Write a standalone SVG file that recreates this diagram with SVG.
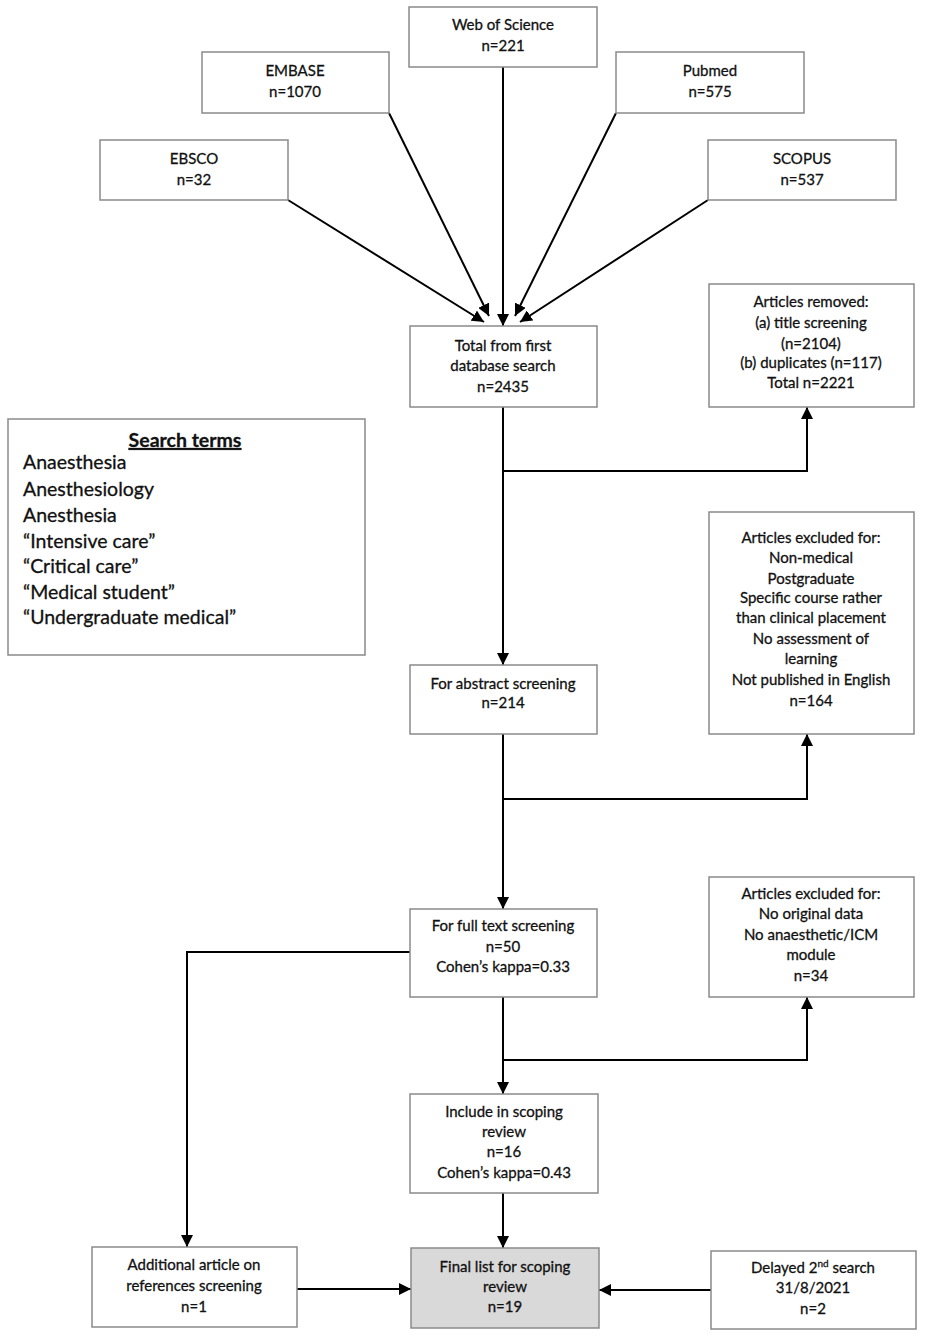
<svg xmlns="http://www.w3.org/2000/svg" width="927" height="1339" viewBox="0 0 927 1339">
<style>
.box{fill:#fff;stroke:#8a8a8a;stroke-width:1.5}
.grey{fill:#d9d9d9;stroke:#8a8a8a;stroke-width:1.5}
.t{font-family:Lato,"Liberation Sans",sans-serif;font-size:15px;fill:#111;stroke:#111;stroke-width:0.3;text-anchor:middle}
.s{font-family:Lato,"Liberation Sans",sans-serif;font-size:19.5px;fill:#111;stroke:#111;stroke-width:0.3}
.c{fill:none;stroke:#000;stroke-width:2}
</style>
<defs>
<marker id="ah" markerWidth="12" markerHeight="12" refX="12" refY="6" orient="auto" markerUnits="userSpaceOnUse"><path d="M0,0 L12,6 L0,12 z" fill="#000"/></marker>
</defs>
<rect width="927" height="1339" fill="#fff"/>
<g id="connectors">
<path class="c" d="M288,200 L484,322" marker-end="url(#ah)"/>
<path class="c" d="M389,113 L489,316" marker-end="url(#ah)"/>
<path class="c" d="M503,67 L503,326" marker-end="url(#ah)"/>
<path class="c" d="M616,113 L515,316" marker-end="url(#ah)"/>
<path class="c" d="M708,200 L520,322" marker-end="url(#ah)"/>
<path class="c" d="M503,407 L503,665" marker-end="url(#ah)"/>
<path class="c" d="M503,471 L807,471 L807,407" marker-end="url(#ah)"/>
<path class="c" d="M503,734 L503,909" marker-end="url(#ah)"/>
<path class="c" d="M503,799 L807,799 L807,734" marker-end="url(#ah)"/>
<path class="c" d="M503,997 L503,1094" marker-end="url(#ah)"/>
<path class="c" d="M503,1060 L807,1060 L807,997" marker-end="url(#ah)"/>
<path class="c" d="M410,952 L187,952 L187,1247" marker-end="url(#ah)"/>
<path class="c" d="M503,1193 L503,1248" marker-end="url(#ah)"/>
<path class="c" d="M297,1289 L411,1289" marker-end="url(#ah)"/>
<path class="c" d="M711,1290 L599,1290" marker-end="url(#ah)"/>
</g>
<g id="wos"><rect class="box" x="409" y="7" width="188" height="60"/><text class="t" x="503" y="30">Web of Science</text><text class="t" x="503" y="51">n=221</text></g>
<g id="embase"><rect class="box" x="202" y="52" width="187" height="61"/><text class="t" x="295" y="76">EMBASE</text><text class="t" x="295" y="97">n=1070</text></g>
<g id="pubmed"><rect class="box" x="616" y="52" width="188" height="61"/><text class="t" x="710" y="76">Pubmed</text><text class="t" x="710" y="97">n=575</text></g>
<g id="ebsco"><rect class="box" x="100" y="140" width="188" height="60"/><text class="t" x="194" y="164">EBSCO</text><text class="t" x="194" y="185">n=32</text></g>
<g id="scopus"><rect class="box" x="708" y="140" width="188" height="60"/><text class="t" x="802" y="164">SCOPUS</text><text class="t" x="802" y="185">n=537</text></g>
<g id="total"><rect class="box" x="410" y="326" width="187" height="81"/><text class="t" x="503" y="351">Total from first</text><text class="t" x="503" y="371">database search</text><text class="t" x="503" y="392">n=2435</text></g>
<g id="removed"><rect class="box" x="709" y="284" width="205" height="123"/><text class="t" x="811" y="307">Articles removed:</text><text class="t" x="811" y="328">(a) title screening</text><text class="t" x="811" y="349">(n=2104)</text><text class="t" x="811" y="368">(b) duplicates (n=117)</text><text class="t" x="811" y="388">Total n=2221</text></g>
<g id="search"><rect class="box" x="8" y="419" width="357" height="236"/>
<text class="s" x="185" y="447" text-anchor="middle" font-weight="bold" text-decoration="underline">Search terms</text>
<text class="s" x="23" y="469">Anaesthesia</text>
<text class="s" x="23" y="496">Anesthesiology</text>
<text class="s" x="23" y="522">Anesthesia</text>
<text class="s" x="23" y="548">“Intensive care”</text>
<text class="s" x="23" y="573">“Critical care”</text>
<text class="s" x="23" y="599">“Medical student”</text>
<text class="s" x="23" y="624">“Undergraduate medical”</text>
</g>
<g id="abstract"><rect class="box" x="410" y="665" width="187" height="69"/><text class="t" x="503" y="689">For abstract screening</text><text class="t" x="503" y="708">n=214</text></g>
<g id="excluded1"><rect class="box" x="709" y="512" width="205" height="222"/>
<text class="t" x="811" y="543">Articles excluded for:</text>
<text class="t" x="811" y="563">Non-medical</text>
<text class="t" x="811" y="584">Postgraduate</text>
<text class="t" x="811" y="603">Specific course rather</text>
<text class="t" x="811" y="623">than clinical placement</text>
<text class="t" x="811" y="644">No assessment of</text>
<text class="t" x="811" y="664">learning</text>
<text class="t" x="811" y="685">Not published in English</text>
<text class="t" x="811" y="706">n=164</text>
</g>
<g id="fulltext"><rect class="box" x="410" y="909" width="187" height="88"/><text class="t" x="503" y="931">For full text screening</text><text class="t" x="503" y="952">n=50</text><text class="t" x="503" y="972">Cohen’s kappa=0.33</text></g>
<g id="excluded2"><rect class="box" x="709" y="877" width="205" height="120"/>
<text class="t" x="811" y="899">Articles excluded for:</text>
<text class="t" x="811" y="919">No original data</text>
<text class="t" x="811" y="940">No anaesthetic/ICM</text>
<text class="t" x="811" y="960">module</text>
<text class="t" x="811" y="981">n=34</text>
</g>
<g id="include"><rect class="box" x="410" y="1094" width="188" height="99"/><text class="t" x="504" y="1117">Include in scoping</text><text class="t" x="504" y="1137">review</text><text class="t" x="504" y="1157">n=16</text><text class="t" x="504" y="1178">Cohen’s kappa=0.43</text></g>
<g id="additional"><rect class="box" x="92" y="1247" width="205" height="80"/><text class="t" x="194" y="1270">Additional article on</text><text class="t" x="194" y="1291">references screening</text><text class="t" x="194" y="1312">n=1</text></g>
<g id="final"><rect class="grey" x="411" y="1248" width="188" height="80"/><text class="t" x="505" y="1272">Final list for scoping</text><text class="t" x="505" y="1292">review</text><text class="t" x="505" y="1312">n=19</text></g>
<g id="delayed"><rect class="box" x="711" y="1251" width="205" height="78"/><text class="t" x="813" y="1273">Delayed 2<tspan font-size="10" dy="-6">nd</tspan><tspan dy="6"> search</tspan></text><text class="t" x="813" y="1293">31/8/2021</text><text class="t" x="813" y="1314">n=2</text></g>
</svg>
